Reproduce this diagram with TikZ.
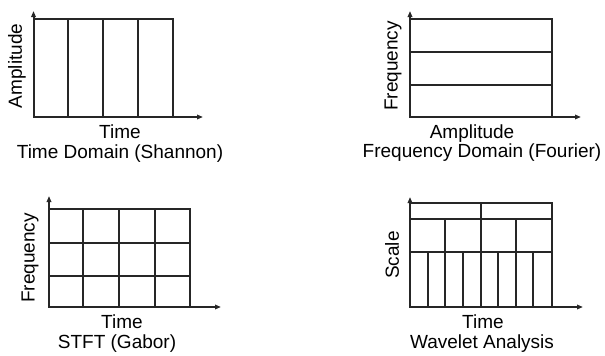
\documentclass[tikz,border=0pt]{standalone}
\usepackage{fontspec}
\setmainfont{Liberation Sans}
\usetikzlibrary{arrows.meta}
\begin{document}
\begin{tikzpicture}[x=1pt,y=-1pt,
  grid/.style={line width=2pt,black!85},
  axis/.style={line width=2pt,black!85,-{Triangle[length=6pt,width=4.5pt]}},
  lbl/.style={font=\fontsize{19}{21}\selectfont,inner sep=0pt,anchor=base},
  ylbl/.style={font=\fontsize{19}{21}\selectfont,inner sep=0pt,rotate=90}]
\useasboundingbox (0,0) rectangle (605,356);
% Panel 1: Time domain
\coordinate (o1) at (33.5,117);
\draw[grid] (33.5,19) rectangle (173,117);
\foreach \x in {68,103,138} \draw[grid] (\x,19) -- (\x,117);
\draw[axis] (o1) -- (33.5,11);
\draw[axis] (o1) -- (203,117);
\node[ylbl] (a1) at (17,66) {Amplitude};
\node[lbl] (t1) at (120,138) {Time};
\node[lbl] (c1) at (120,158) {Time Domain (Shannon)};
% Panel 2: Frequency domain
\coordinate (o2) at (410,117);
\draw[grid] (410,19) rectangle (552,117);
\foreach \y in {52,85} \draw[grid] (410,\y) -- (552,\y);
\draw[axis] (o2) -- (410,11);
\draw[axis] (o2) -- (581,117);
\node[ylbl] (a2) at (393,66) {Frequency};
\node[lbl] (t2) at (472,138) {Amplitude};
\node[lbl] (c2) at (482,157) {Frequency Domain (Fourier)};
% Panel 3: STFT
\coordinate (o3) at (49,307);
\draw[grid] (49,209) rectangle (190,307);
\foreach \x in {83,119,155} \draw[grid] (\x,209) -- (\x,307);
\foreach \y in {243,276} \draw[grid] (49,\y) -- (190,\y);
\draw[axis] (o3) -- (49,196);
\draw[axis] (o3) -- (221,307);
\node[ylbl] (a3) at (30,258) {Frequency};
\node[lbl] (t3) at (122,328) {Time};
\node[lbl] (c3) at (117,348) {STFT (Gabor)};
% Panel 4: Wavelet
\coordinate (o4) at (410,307);
\draw[grid] (410,203) rectangle (552,307);
\foreach \y in {219,252} \draw[grid] (410,\y) -- (552,\y);
\draw[grid] (481,203) -- (481,307);
\foreach \x in {445,516} \draw[grid] (\x,219) -- (\x,307);
\foreach \x in {428,463,498,533} \draw[grid] (\x,252) -- (\x,307);
\draw[axis] (o4) -- (410,197);
\draw[axis] (o4) -- (583,307);
\node[ylbl] (a4) at (392,255) {Scale};
\node[lbl] (t4) at (483,328) {Time};
\node[lbl] (c4) at (482,348) {Wavelet Analysis};
\end{tikzpicture}
\end{document}
